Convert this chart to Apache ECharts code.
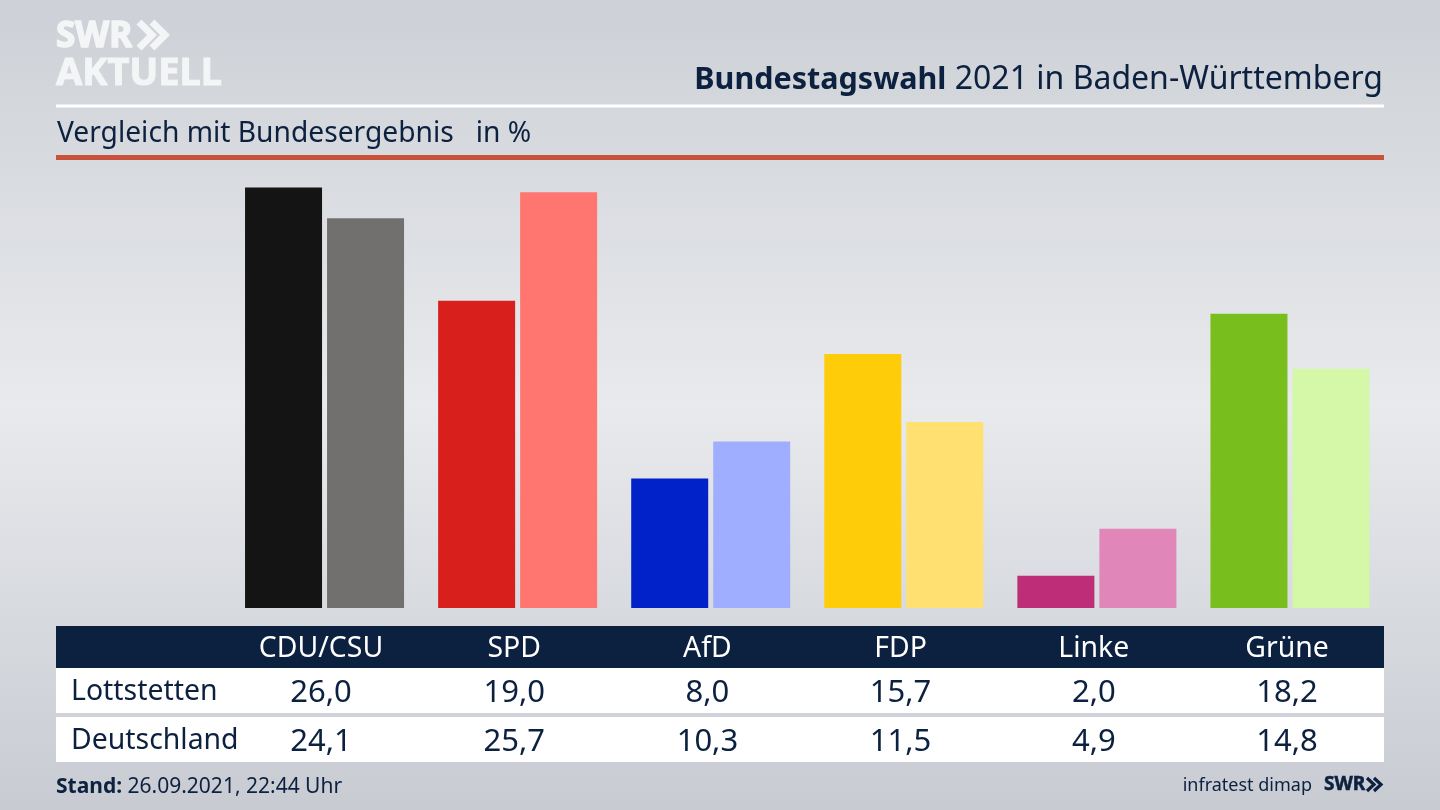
<!DOCTYPE html>
<html>
<head>
<meta charset="utf-8">
<title>Bundestagswahl 2021 in Baden-Württemberg</title>
<script src="https://cdn.jsdelivr.net/npm/echarts@6/dist/echarts.min.js"></script>
<style>
html, body { margin: 0; padding: 0; }
#main { width: 1440px; height: 810px; }
</style>
</head>
<body>
<div id="main"></div>
<script>
var parties = ['CDU/CSU', 'SPD', 'AfD', 'FDP', 'Linke', 'Grüne'];
var lottstetten = [26.0, 19.0, 8.0, 15.7, 2.0, 18.2];
var deutschland = [24.1, 25.7, 10.3, 11.5, 4.9, 14.8];
var colorsLocal = ['#141414', '#d81f1c', '#0022c8', '#ffcc0a', '#bd2d78', '#78be1c'];
var colorsBund = ['#72706e', '#ff7570', '#a0aeff', '#ffe071', '#e086b8', '#d4f7a8'];

var navy = '#0c203f';
var logoWhite = '#f4f5f6';
var font = '"Noto Sans", sans-serif';

function txt(x, y, text, size, color, align, weight) {
    return {
        type: 'text',
        x: x,
        y: y,
        silent: true,
        style: {
            text: text,
            fontFamily: font,
            fontSize: size,
            fontWeight: weight || 'normal',
            fill: color,
            align: align || 'left',
            verticalAlign: 'middle'
        }
    };
}

// Logo Schrift etwas fetter, mit Kontur
function logoTxt(x, y, text, size, color, lw) {
    var t = txt(x, y, text, size, color, 'left', 'bold');
    t.style.stroke = color;
    t.style.lineWidth = lw;
    return t;
}

function box(x, y, w, h, color) {
    return { type: 'rect', silent: true, shape: { x: x, y: y, width: w, height: h }, style: { fill: color } };
}

// die doppelten Pfeile im SWR Logo
function chevrons(x, y, h, w, color, lw) {
    var list = [];
    for (var i = 0; i < 2; i++) {
        list.push({
            type: 'polyline',
            silent: true,
            shape: { points: [[x + i * w, y], [x + i * w + w, y + h / 2], [x + i * w, y + h]] },
            style: { stroke: color, lineWidth: lw, fill: null }
        });
    }
    return list;
}

var graphics = [
    box(56, 104.5, 1328, 3, '#ffffff'),
    box(56, 155, 1328, 5, '#c9523c'),
    box(56, 626, 1328, 42, navy),
    box(56, 668, 1328, 45, '#ffffff'),
    box(56, 717, 1328, 45, '#ffffff'),
    logoTxt(56, 37, 'SWR', 35, logoWhite, 1.5),
    logoTxt(56, 74, 'AKTUELL', 38, logoWhite, 1),
    txt(57, 134, 'Vergleich mit Bundesergebnis   in %', 28.2, navy),
    txt(71, 692, 'Lottstetten', 28.4, navy),
    txt(71, 741, 'Deutschland', 28.4, navy),
    {
        type: 'text',
        x: 1383,
        y: 80,
        silent: true,
        style: {
            text: '{b|Bundestagswahl} 2021 in Baden-Württemberg',
            fontFamily: font,
            fontSize: 32,
            fill: navy,
            align: 'right',
            verticalAlign: 'middle',
            rich: { b: { fontFamily: font, fontSize: 30.5, fontWeight: 'bold', fill: navy } }
        }
    },
    {
        type: 'text',
        x: 56,
        y: 787,
        silent: true,
        style: {
            text: '{b|Stand:} 26.09.2021, 22:44 Uhr',
            fontFamily: font,
            fontSize: 21,
            fill: navy,
            verticalAlign: 'middle',
            rich: { b: { fontFamily: font, fontSize: 21, fontWeight: 'bold', fill: navy } }
        }
    },
    txt(1312, 786, 'infratest dimap', 18, navy, 'right'),
    logoTxt(1324, 785, 'SWR', 19, navy, 0.5)
];
graphics = graphics.concat(chevrons(139, 22, 26, 13, logoWhite, 7));
graphics = graphics.concat(chevrons(1367, 778, 13, 7, navy, 3.2));

parties.forEach(function (name, i) {
    var cx = 321 + i * 193.2;
    graphics.push(txt(cx, 649, name, 28.4, '#ffffff', 'center'));
    graphics.push(txt(cx, 693, lottstetten[i].toFixed(1).replace('.', ','), 31, navy, 'center'));
    graphics.push(txt(cx, 742, deutschland[i].toFixed(1).replace('.', ','), 31, navy, 'center'));
});

var option = {
    animation: false,
    backgroundColor: {
        type: 'linear', x: 0, y: 0, x2: 0, y2: 1,
        colorStops: [
            { offset: 0, color: '#cdd0d6' },
            { offset: 0.5, color: '#e8eaed' },
            { offset: 1, color: '#c8cbd2' }
        ]
    },
    grid: { left: 228, top: 187.5, width: 1158.5, height: 420.5 },
    xAxis: {
        type: 'category',
        data: parties,
        axisLine: { show: false },
        axisTick: { show: false },
        axisLabel: { show: false }
    },
    yAxis: {
        type: 'value',
        min: 0,
        max: 26,
        show: false
    },
    series: [
        {
            name: 'Lottstetten',
            type: 'bar',
            data: lottstetten,
            barWidth: 77,
            barGap: '6.5%',
            itemStyle: { color: function (p) { return colorsLocal[p.dataIndex]; } }
        },
        {
            name: 'Deutschland',
            type: 'bar',
            data: deutschland,
            barWidth: 77,
            itemStyle: { color: function (p) { return colorsBund[p.dataIndex]; } }
        }
    ],
    graphic: graphics
};

var chart = echarts.init(document.getElementById('main'));
chart.setOption(option);
</script>
</body>
</html>
